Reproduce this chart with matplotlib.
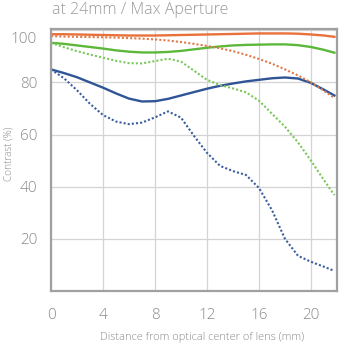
import matplotlib
matplotlib.use("Agg")
import matplotlib.pyplot as plt
import matplotlib.transforms as mtransforms

# Image height (mm from optical center)
distance = [0, 1, 2, 3, 4, 5, 6, 7, 8, 9, 10, 11, 12, 13, 14, 15, 16, 17, 18, 19, 20, 21, 21.8]

# MTF contrast values (%)
orange_solid = [98.5, 98.5, 98.4, 98.3, 98.2, 98.1, 98.0, 98.0, 98.0, 98.1, 98.2, 98.3,
                98.4, 98.5, 98.6, 98.7, 98.8, 98.8, 98.8, 98.7, 98.4, 98.0, 97.5]
orange_dotted = [97.8, 97.6, 97.5, 97.4, 97.3, 97.2, 97.0, 96.8, 96.5, 96.1, 95.5, 94.8,
                 94.0, 93.1, 92.0, 90.6, 89.0, 87.2, 85.0, 82.7, 80.0, 76.8, 74.0]
green_solid = [95.2, 94.8, 94.2, 93.6, 93.0, 92.3, 91.8, 91.5, 91.5, 91.7, 92.1, 92.7,
               93.3, 93.8, 94.2, 94.4, 94.5, 94.6, 94.6, 94.3, 93.6, 92.5, 91.4]
green_dotted = [95.2, 93.5, 92.0, 90.7, 89.5, 88.3, 87.4, 87.3, 88.2, 89.1, 88.0, 84.5,
                81.0, 79.0, 77.7, 76.2, 73.0, 68.0, 63.0, 57.0, 50.0, 42.5, 36.8]
blue_solid = [85.0, 83.6, 82.0, 80.0, 78.0, 75.8, 73.8, 72.7, 72.8, 73.7, 75.0, 76.3,
              77.6, 78.7, 79.6, 80.4, 81.0, 81.6, 81.9, 81.5, 79.8, 77.2, 75.0]
blue_dotted = [85.0, 81.6, 77.0, 71.8, 67.5, 65.0, 64.0, 64.6, 66.6, 68.9, 66.5, 59.5,
               53.0, 48.0, 46.0, 44.5, 39.5, 31.0, 20.0, 13.5, 11.2, 9.3, 7.7]

x_ticks = [0, 4, 8, 12, 16, 20]
y_ticks = [20, 40, 60, 80, 100]

title_text = "at 24mm / Max Aperture"
x_label = "Distance from optical center of lens (mm)"
y_label = "Contrast (%)"

plt.rcParams["font.family"] = ["Open Sans", "DejaVu Sans"]
plt.rcParams["font.weight"] = 300

fig = plt.figure(figsize=(3.44, 3.46), dpi=100)
ax = fig.add_axes([51 / 344, 55 / 346, 286 / 344, 262 / 346])

ax.set_xlim(0, 22)
ax.set_ylim(0, 100.5)

ax.set_xticks(x_ticks)
ax.set_yticks(y_ticks)
ax.set_xticklabels([str(v) for v in x_ticks])
ax.set_yticklabels([str(v) for v in y_ticks])
ax.tick_params(axis="both", length=0, colors="#8a8a8a", labelsize=11)
ax.tick_params(axis="y", pad=10)
ax.tick_params(axis="x", pad=12)

# shift the top label down slightly so it sits inside the frame
top_lbl = ax.get_yticklabels()[-1]
top_lbl.set_transform(top_lbl.get_transform() +
                      mtransforms.ScaledTranslation(0, -7 / 100, fig.dpi_scale_trans))

ax.grid(True, color="#d4d4d4", linewidth=0.9)
ax.set_axisbelow(True)
for side in ax.spines.values():
    side.set_color("#a0a0a0")
    side.set_linewidth(1.6)

ax.plot(distance, orange_solid, color="#e8703a", linewidth=1.7)
ax.plot(distance, green_solid, color="#5cb83a", linewidth=1.7)
ax.plot(distance, blue_solid, color="#2f5597", linewidth=1.7)
ax.plot(distance, orange_dotted, color="#e07a4a", linewidth=1.5, linestyle=(0, (1, 1)))
ax.plot(distance, green_dotted, color="#7ac85a", linewidth=1.5, linestyle=(0, (1, 1)))
ax.plot(distance, blue_dotted, color="#3a5e9e", linewidth=1.5, linestyle=(0, (1, 1)))

fig.text(52 / 344, 1 - 14 / 346, title_text, color="#9a9a9a", fontsize=11.5,
         ha="left", va="baseline")
fig.text(202 / 344, 1 - 340 / 346, x_label, color="#8a8a8a", fontsize=7.9,
         ha="center", va="baseline")
fig.text(9 / 344, 1 - 154 / 346, y_label, color="#8a8a8a", fontsize=7.2,
         ha="center", va="center", rotation=90)

fig.savefig("out.png", dpi=100, facecolor="white")
